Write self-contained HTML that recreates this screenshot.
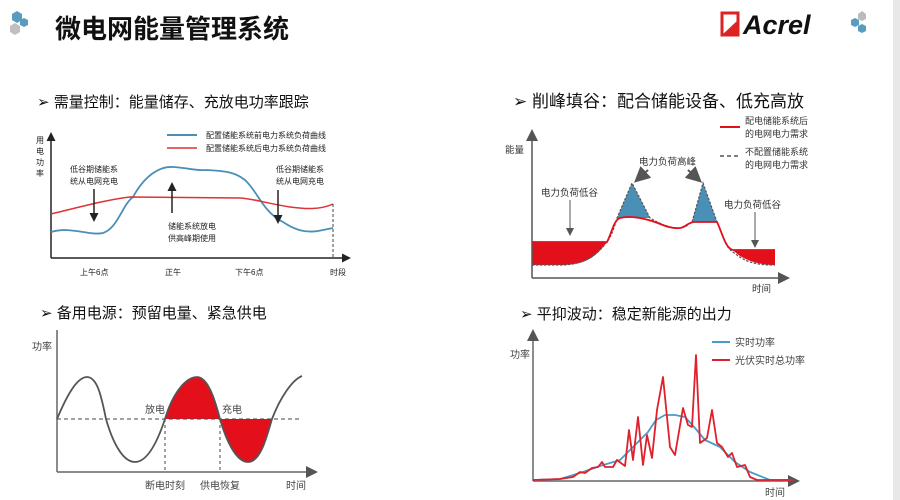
<!DOCTYPE html>
<html><head><meta charset="utf-8"><style>
body{margin:0;background:#fff;}
svg{display:block;font-family:"Liberation Sans","Noto Sans CJK SC",sans-serif;}
</style></head><body>
<svg width="900" height="500" viewBox="0 0 900 500" xmlns="http://www.w3.org/2000/svg">
<defs>
<marker id="ah" markerWidth="8" markerHeight="8" refX="6" refY="4" orient="auto"><path d="M0,0 L8,4 L0,8 z" fill="#555"/></marker>
<marker id="ab" markerWidth="6" markerHeight="6" refX="4" refY="3" orient="auto"><path d="M0,0 L6,3 L0,6 z" fill="#222"/></marker>
</defs>
<!-- header -->
<polygon points="12,14 17,11 22,14 22,20 17,23 12,20" fill="#5a9cc0"/>
<polygon points="10,26 15,23 20,26 20,32 15,35 10,32" fill="#c0c0c0"/>
<polygon points="20,20 24,18 28,20 28,25 24,27 20,25" fill="#5a9cc0"/>
<text x="55" y="38" font-size="26" font-weight="bold" fill="#111">微电网能量管理系统</text>
<rect x="722" y="13" width="16" height="22" fill="none" stroke="#d22" stroke-width="3"/>
<polygon points="722,35 738,20 738,35" fill="#d22"/>
<text x="743" y="34" font-size="27" font-weight="bold" font-style="italic" fill="#111">Acrel</text>
<polygon points="851,20 855,18 859,20 859,25 855,27 851,25" fill="#5a9cc0"/>
<polygon points="858,14 862,11 866,14 866,19 862,21 858,19" fill="#bbb"/>
<polygon points="858,26 862,24 866,26 866,31 862,33 858,31" fill="#5a9cc0"/>
<rect x="893" y="0" width="7" height="500" fill="#e8e8e8"/>
<!-- section headers -->
<text x="37" y="107" font-size="15" fill="#111">➢  需量控制：能量储存、充放电功率跟踪</text>
<text x="513" y="107" font-size="17" fill="#111">➢  削峰填谷：配合储能设备、低充高放</text>
<text x="40" y="318" font-size="15" fill="#111">➢  备用电源：预留电量、紧急供电</text>
<text x="520" y="319" font-size="15" fill="#111">➢  平抑波动：稳定新能源的出力</text>

<!-- chart 1 -->
<g font-size="8" fill="#222">
<line x1="51" y1="258" x2="51" y2="135" stroke="#222" stroke-width="1.5" marker-end="url(#ab)"/>
<line x1="51" y1="258" x2="348" y2="258" stroke="#222" stroke-width="1.5" marker-end="url(#ab)"/>
<text x="36" y="143">用</text><text x="36" y="154">电</text><text x="36" y="165">功</text><text x="36" y="176">率</text>
<path d="M51,232 C70,226 90,236 103,233 C118,228 122,205 133,197 C145,175 160,166 173,167 C190,168 195,171 207,170 C225,171 235,172 245,180 C258,192 263,212 283,222 C295,230 305,233 318,231 L333,228" fill="none" stroke="#4a8fb5" stroke-width="1.8"/>
<path d="M51,214 C80,207 110,199 130,197 L240,198 C255,199 265,203 290,207 C305,209 320,210 333,204" fill="none" stroke="#d33" stroke-width="1.5"/>
<line x1="333" y1="204" x2="333" y2="258" stroke="#444" stroke-dasharray="3,2"/>
<line x1="167" y1="135" x2="197" y2="135" stroke="#4a8fb5" stroke-width="2"/>
<line x1="167" y1="148" x2="197" y2="148" stroke="#d33" stroke-width="1.5"/>
<text x="206" y="138">配置储能系统前电力系统负荷曲线</text>
<text x="206" y="151">配置储能系统后电力系统负荷曲线</text>
<text x="70" y="172">低谷期储能系</text><text x="70" y="184">统从电网充电</text>
<text x="276" y="172">低谷期储能系</text><text x="276" y="184">统从电网充电</text>
<text x="168" y="229">储能系统放电</text><text x="168" y="241">供高峰期使用</text>
<line x1="94" y1="189" x2="94" y2="219" stroke="#222" stroke-width="1.5" marker-end="url(#ab)"/>
<line x1="278" y1="190" x2="278" y2="221" stroke="#222" stroke-width="1.5" marker-end="url(#ab)"/>
<line x1="172" y1="213" x2="172" y2="185" stroke="#222" stroke-width="1.5" marker-end="url(#ab)"/>
<text x="80" y="275">上午6点</text><text x="165" y="275">正午</text><text x="235" y="275">下午6点</text><text x="330" y="275">时段</text>
</g>

<!-- chart 2 -->
<g font-size="9.5" fill="#333">
<path d="M532,242 L607,242 C595,258 585,265 560,265 L532,265 Z" fill="#e3101c"/>
<path d="M733,250 L775,250 L775,265 C755,265 740,258 733,250 Z" fill="#e3101c"/>
<path d="M617,218 L632,183 L650,218 Z" fill="#4a8fb5"/>
<path d="M692,222 L703,183 L717,222 Z" fill="#4a8fb5"/>
<line x1="532" y1="278" x2="532" y2="132" stroke="#555" stroke-width="1.5" marker-end="url(#ah)"/>
<line x1="532" y1="278" x2="787" y2="278" stroke="#555" stroke-width="1.5" marker-end="url(#ah)"/>
<path d="M532,265 L560,265 C590,265 600,250 607,242 C612,235 614,228 617,218 L632,183 L650,218 C662,225 670,228 680,228 C686,228 688,224 692,222 L703,183 L717,222 C722,232 725,248 733,252 C745,262 755,265 775,265" fill="none" stroke="#555" stroke-width="1.2" stroke-dasharray="2.5,1.5"/>
<path d="M532,242 L607,242 C612,232 614,220 620,218 C628,216 640,217 655,222 C665,226 672,229 680,228 C686,227 688,222 695,222 L717,222 C722,232 725,248 733,250 L775,250" fill="none" stroke="#e3101c" stroke-width="1.8"/>
<text x="505" y="153">能量</text>
<text x="639" y="165">电力负荷高峰</text>
<line x1="648" y1="170" x2="637" y2="180" stroke="#555" stroke-width="2" marker-end="url(#ah)"/>
<line x1="688" y1="170" x2="699" y2="180" stroke="#555" stroke-width="2" marker-end="url(#ah)"/>
<text x="541" y="196">电力负荷低谷</text>
<line x1="570" y1="200" x2="570" y2="234" stroke="#555" marker-end="url(#ah)"/>
<text x="724" y="208">电力负荷低谷</text>
<line x1="755" y1="212" x2="755" y2="246" stroke="#555" marker-end="url(#ah)"/>
<line x1="720" y1="127" x2="740" y2="127" stroke="#e3101c" stroke-width="2"/>
<text x="745" y="124" font-size="9">配电储能系统后</text><text x="745" y="137" font-size="9">的电网电力需求</text>
<line x1="720" y1="156" x2="740" y2="156" stroke="#555" stroke-width="1.5" stroke-dasharray="4,3"/>
<text x="745" y="155" font-size="9">不配置储能系统</text><text x="745" y="168" font-size="9">的电网电力需求</text>
<text x="752" y="292">时间</text>
</g>

<!-- chart 3 -->
<g font-size="10" fill="#444">
<path d="M165,419 C172,395 185,377 197,377 C208,377 215,400 220,419 Z" fill="#e3101c"/>
<path d="M220,419 C226,440 236,462 248,462 C260,462 266,440 272,419 Z" fill="#e3101c"/>
<line x1="57" y1="472" x2="57" y2="330" stroke="#666" stroke-width="1.5"/>
<line x1="57" y1="472" x2="315" y2="472" stroke="#666" stroke-width="1.5" marker-end="url(#ah)"/>
<line x1="57" y1="419" x2="302" y2="419" stroke="#444" stroke-dasharray="4,3"/>
<line x1="165" y1="419" x2="165" y2="472" stroke="#444" stroke-dasharray="3,3"/>
<line x1="220" y1="419" x2="220" y2="472" stroke="#444" stroke-dasharray="3,3"/>
<path d="M57,419 C65,400 76,377 87,377 C98,377 102,400 106,419 C112,440 122,462 135,462 C148,462 158,440 165,419 C172,395 185,377 197,377 C208,377 215,400 220,419 C226,440 236,462 248,462 C260,462 266,440 272,419 C280,398 292,380 302,376" fill="none" stroke="#555" stroke-width="1.8"/>
<text x="32" y="350">功率</text>
<text x="145" y="413">放电</text><text x="222" y="413">充电</text>
<text x="145" y="489">断电时刻</text><text x="200" y="489">供电恢复</text><text x="286" y="489">时间</text>
</g>

<!-- chart 4 -->
<g font-size="10" fill="#444">
<line x1="533" y1="481" x2="533" y2="332" stroke="#666" stroke-width="1.5" marker-end="url(#ah)"/>
<line x1="533" y1="481" x2="797" y2="481" stroke="#666" stroke-width="1.5" marker-end="url(#ah)"/>
<polyline points="533,480 560,479 580,473 600,466 620,460 635,445 648,432 656,420 665,415 675,415 685,417 695,428 705,440 720,447 735,462 750,472 770,480 793,480" fill="none" stroke="#4a9cc8" stroke-width="1.8" stroke-linejoin="round"/>
<polyline points="533,480 560,479 573,477 580,472 585,473 592,468 598,467 602,462 605,467 613,467 617,460 625,466 629,430 633,460 638,417 643,465 647,435 652,458 657,410 663,377 670,447 675,455 683,408 688,425 692,427 696,355 700,443 707,438 712,410 717,443 722,447 728,457 732,453 737,467 745,465 750,477 757,480 793,480" fill="none" stroke="#e0202a" stroke-width="1.8" stroke-linejoin="round"/>
<line x1="712" y1="342" x2="730" y2="342" stroke="#4a9cc8" stroke-width="2"/>
<line x1="712" y1="360" x2="730" y2="360" stroke="#e0202a" stroke-width="2"/>
<text x="735" y="346">实时功率</text><text x="735" y="364">光伏实时总功率</text>
<text x="510" y="358">功率</text>
<text x="765" y="496">时间</text>
</g>
</svg>
</body></html>
